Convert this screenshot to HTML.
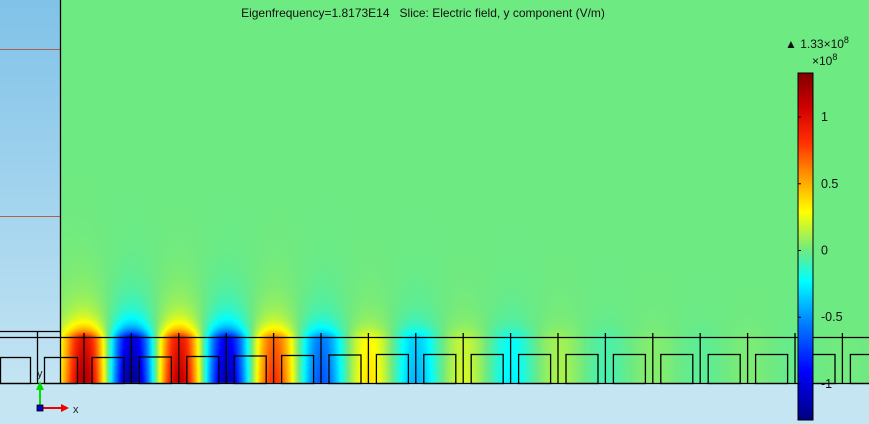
<!DOCTYPE html>
<html><head><meta charset="utf-8"><style>
html,body{margin:0;padding:0;width:869px;height:424px;overflow:hidden;background:#c5e5f3;font-family:"Liberation Sans","DejaVu Sans",sans-serif}
#fieldcanvas,#plot{position:absolute;left:0;top:0;display:block}
</style></head><body>
<canvas id="fieldcanvas" width="869" height="424"></canvas>
<svg id="plot" width="869" height="424" xmlns="http://www.w3.org/2000/svg">
<defs>
<linearGradient id="leftbg" x1="0" y1="0" x2="0" y2="1"><stop offset="0" stop-color="#80c2e8"/><stop offset="1" stop-color="#c3e4f3"/></linearGradient>
<linearGradient id="jet" x1="0" y1="0" x2="0" y2="1">
<stop offset="0" stop-color="#7f0000"/><stop offset="0.1" stop-color="#d00000"/><stop offset="0.2" stop-color="#ff3000"/><stop offset="0.3" stop-color="#ff9a00"/><stop offset="0.4" stop-color="#ffff00"/><stop offset="0.5115" stop-color="#6eea82"/><stop offset="0.6" stop-color="#00ffff"/><stop offset="0.72" stop-color="#0080ff"/><stop offset="0.86" stop-color="#0000ff"/><stop offset="1" stop-color="#00007f"/></linearGradient>
</defs>
<rect x="0" y="0" width="60" height="383" fill="url(#leftbg)"/>
<line x1="0" y1="49.5" x2="60" y2="49.5" stroke="#b06050" stroke-width="1"/>
<line x1="0" y1="216.5" x2="60" y2="216.5" stroke="#b06050" stroke-width="1"/>
<g id="geom" fill="none" stroke="#000" stroke-width="1.3"></g>
<text x="423" y="17" font-size="12" text-anchor="middle" fill="#111" xml:space="preserve">Eigenfrequency=1.8173E14   Slice: Electric field, y component (V/m)</text>
<rect x="798" y="73" width="15" height="347" fill="url(#jet)" stroke="#000" stroke-width="1"/>
<g id="cbticks" font-size="12.5" fill="#111"></g>
<text x="785" y="48" font-size="12" fill="#111">▲ 1.33×10<tspan dy="-5" font-size="9">8</tspan></text>
<text x="812" y="65" font-size="12" fill="#111">×10<tspan dy="-5" font-size="9">8</tspan></text>
<g>
<line x1="40" y1="408" x2="40" y2="388" stroke="#00dd00" stroke-width="2"/>
<polygon points="36,390 44,390 40,381" fill="#00dd00"/>
<line x1="40" y1="408" x2="63" y2="408" stroke="#ee0000" stroke-width="2"/>
<polygon points="61,404 61,412 69,408" fill="#ee0000"/>
<rect x="37" y="405" width="6" height="6" fill="#0000cc" stroke="#000" stroke-width="0.8"/>
<text x="73" y="413" font-size="11" fill="#222">x</text>
<text x="37" y="377" font-size="11" fill="#222">y</text>
</g>
</svg>
<script>
const lobeAmps=[1.15,-1.2,1.1,-1.1,0.8,-0.65,0.35,-0.4,0.2,-0.25,0.12,-0.08,0.05,-0.04,0.03,-0.02,0.01,0];
const cbTicks=[1,0.5,0,-0.5,-1];
const cbTickLabels=["1","0.5","0","-0.5","-1"];
const vMax=1.33, vMin=-1.27;
const NS="http://www.w3.org/2000/svg";
function xOf(i){return 84+i*47.4;}
function cbY(v){return 73+(vMax-v)/(vMax-vMin)*347;}
const cmap=[[0,[127,0,0]],[0.1,[208,0,0]],[0.2,[255,48,0]],[0.3,[255,154,0]],[0.4,[255,255,0]],[0.5115,[110,234,130]],[0.6,[0,255,255]],[0.72,[0,128,255]],[0.86,[0,0,255]],[1,[0,0,127]]];
function colorOf(v){let t=(vMax-v)/(vMax-vMin);t=Math.max(0,Math.min(1,t));
  for(let k=1;k<cmap.length;k++){if(t<=cmap[k][0]){const a=cmap[k-1],b=cmap[k],f=(t-a[0])/(b[0]-a[0]);return a[1].map((c,j)=>c+(b[1][j]-c)*f);}}return cmap[cmap.length-1][1];}
const cv=document.getElementById('fieldcanvas'),ctx=cv.getContext('2d');
const img=ctx.createImageData(869,424);
for(let y=0;y<383;y++){
  const d=Math.max(0,337-y);
  const hy=d===0?(0.85+(y-337)/46*0.2):(0.6*Math.exp(-d/9)+0.25*Math.exp(-d/32));
  const sig=15+d*0.12;
  for(let x=61;x<869;x++){
    let v=0;
    for(let i=0;i<lobeAmps.length;i++){const dx=x-xOf(i);if(Math.abs(dx)>70)continue;
      v+=lobeAmps[i]*Math.exp(-dx*dx/(2*sig*sig));}
    v*=hy;
    const c=colorOf(v),p=(y*869+x)*4;
    img.data[p]=c[0];img.data[p+1]=c[1];img.data[p+2]=c[2];img.data[p+3]=255;
  }
}
ctx.putImageData(img,0,0);
const geo=document.getElementById('geom');
function L(x1,y1,x2,y2){const l=document.createElementNS(NS,'line');l.setAttribute('x1',x1);l.setAttribute('y1',y1);l.setAttribute('x2',x2);l.setAttribute('y2',y2);
  
  
  geo.appendChild(l);}
function R(x,y,w,h){const r=document.createElementNS(NS,'rect');r.setAttribute('x',x);r.setAttribute('y',y);r.setAttribute('width',w);r.setAttribute('height',h);
  
  
  geo.appendChild(r);}
L(60.5,0,60.5,383);L(0,331.5,60,331.5);L(0,337.5,869,337.5);L(0,383.5,869,383.5);L(37.5,331,37.5,383);
R(0.5,357.5,30,26);R(44.5,357.5,33,26);
for(let i=0;i<17;i++){const x=xOf(i);L(x,333,x,383);R(x+8,357.5-Math.min(i,6)*0.5,32,26+Math.min(i,6)*0.5);}
const cb=document.getElementById('cbticks');
cbTicks.forEach((v,i)=>{const y=cbY(v);
  const t=document.createElementNS(NS,'line');t.setAttribute('x1',798);t.setAttribute('x2',801);t.setAttribute('y1',y);t.setAttribute('y2',y);t.setAttribute('stroke','#000');
  
  
  cb.appendChild(t);
  const tx=document.createElementNS(NS,'text');tx.setAttribute('x',821);tx.setAttribute('y',y+4);tx.textContent=cbTickLabels[i];
  
  
  cb.appendChild(tx);});
</script>
</body></html>
